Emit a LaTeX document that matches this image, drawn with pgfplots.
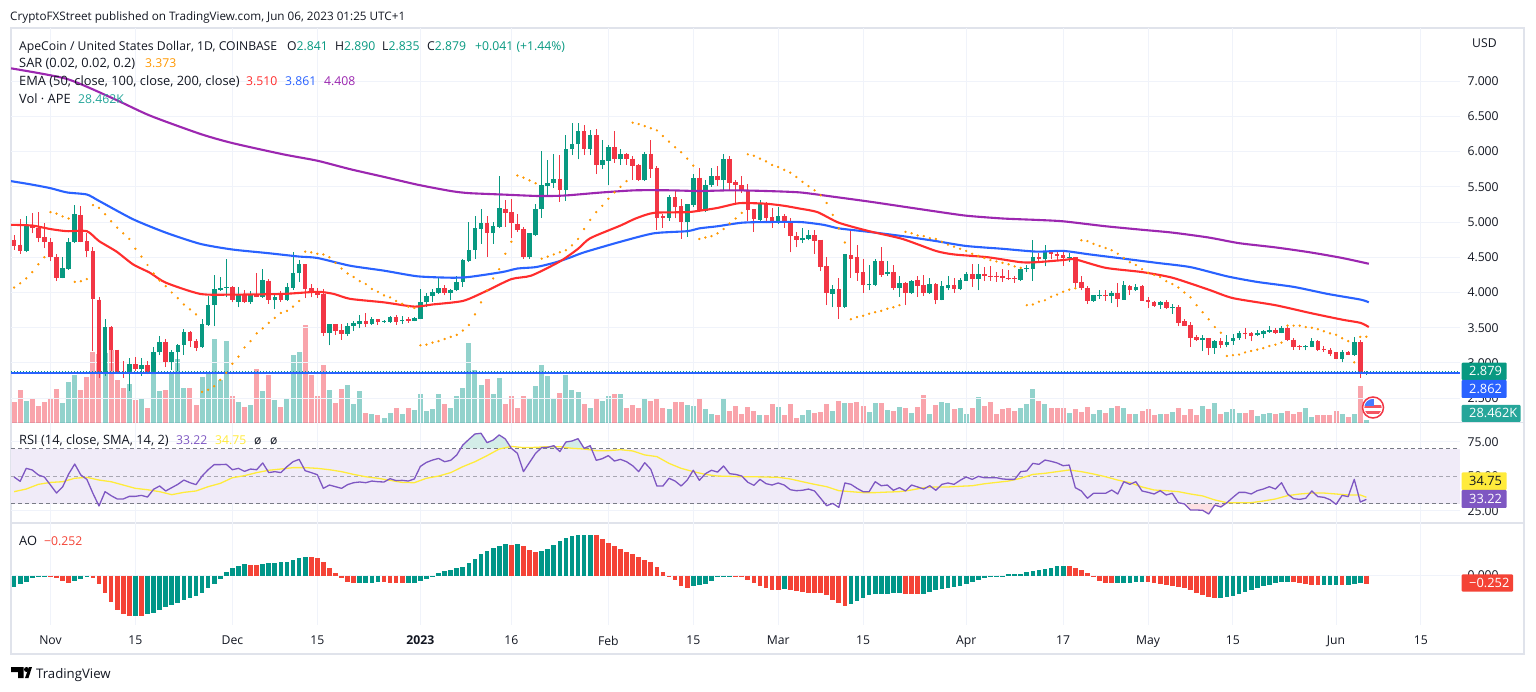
\documentclass[border=0pt]{standalone}
\usepackage{fontspec}
\setmainfont{Open Sans}
\usepackage{pgfplots}
\usepackage{pgfplotstable}
\pgfplotsset{compat=1.18}

\definecolor{upc}{HTML}{089981}
\definecolor{dnc}{HTML}{F23645}
\definecolor{aog}{HTML}{009688}
\definecolor{aor}{HTML}{F44336}
\definecolor{ema50}{HTML}{FF2D2D}
\definecolor{ema100}{HTML}{2962FF}
\definecolor{ema200}{HTML}{9C27B0}
\definecolor{sarc}{HTML}{FF9800}
\definecolor{rsic}{HTML}{7E57C2}
\definecolor{smac}{HTML}{FFEB3B}
\definecolor{gridc}{HTML}{F0F3FA}
\definecolor{framec}{HTML}{E0E3EB}
\definecolor{txt}{HTML}{131722}
\definecolor{volg}{HTML}{26A69A}
\definecolor{dashc}{HTML}{787B86}

% d = days since 1 Nov 2022, v in K
\pgfplotstableread{
d o h l c v
-6 4.75 4.81 4.61 4.66 207
-5 4.68 5.04 4.55 4.59 330
-4 4.59 5.09 4.57 4.96 220
-3 4.955 5.13 4.84 4.91 250
-2 4.92 5.14 4.71 4.78 170
-1 4.79 4.98 4.63 4.72 210
0 4.72 4.78 4.44 4.50 240
1 4.50 4.55 4.16 4.21 340
2 4.21 4.50 4.20 4.35 200
3 4.34 4.77 4.32 4.72 410
4 4.72 5.24 4.70 5.11 480
5 5.10 5.23 4.71 4.72 330
6 4.73 4.85 4.50 4.59 460
7 4.59 4.64 3.17 3.91 710
8 3.90 3.93 2.79 2.86 690
9 2.86 3.63 2.82 3.51 700
10 3.51 3.53 2.89 3.18 730
11 3.19 3.19 2.85 2.86 430
12 2.87 3.03 2.79 2.85 350
13 2.85 3.07 2.60 2.99 390
14 2.98 3.09 2.88 2.91 230
15 2.91 3.07 2.82 2.97 250
16 2.97 3.03 2.84 2.86 150
17 2.85 3.23 2.84 3.15 490
18 3.15 3.38 3.11 3.30 320
19 3.30 3.34 2.94 3.02 330
20 3.02 3.19 2.90 3.15 500
21 3.15 3.27 2.88 3.26 640
22 3.26 3.48 3.12 3.44 350
23 3.44 3.46 3.22 3.31 350
24 3.31 3.34 3.17 3.21 180
25 3.22 3.63 3.21 3.56 460
26 3.54 3.95 3.53 3.82 510
27 3.82 4.25 3.52 4.05 840
28 4.04 4.22 4.02 4.06 430
29 4.07 4.47 3.93 4.08 820
30 4.08 4.09 3.86 3.89 270
31 3.87 4.08 3.79 3.97 210
32 3.97 4.04 3.85 3.86 160
33 3.86 4.02 3.84 3.97 180
34 3.97 4.27 3.93 3.94 540
35 3.94 4.33 3.92 4.18 320
36 4.17 4.19 3.84 3.89 480
37 3.89 3.98 3.76 3.94 230
38 3.97 4.02 3.87 3.89 160
39 3.89 4.14 3.88 4.08 240
40 4.07 4.58 4.04 4.28 680
41 4.27 4.46 4.15 4.40 710
42 4.40 4.41 3.92 4.05 980
43 4.06 4.12 3.93 4.00 480
44 4.00 4.07 3.92 3.97 270
45 3.98 4.05 3.38 3.43 580
46 3.43 3.56 3.25 3.55 330
47 3.55 3.56 3.40 3.46 200
48 3.47 3.55 3.33 3.41 340
49 3.41 3.57 3.38 3.52 380
50 3.52 3.60 3.46 3.57 190
51 3.56 3.68 3.49 3.60 320
52 3.60 3.71 3.51 3.56 100
53 3.56 3.65 3.54 3.62 90
54 3.62 3.62 3.54 3.58 80
55 3.58 3.61 3.57 3.60 50
56 3.58 3.66 3.57 3.65 100
57 3.65 3.68 3.54 3.58 150
58 3.60 3.66 3.56 3.61 90
59 3.62 3.65 3.57 3.60 150
60 3.60 3.65 3.59 3.64 130
61 3.63 4.05 3.62 3.86 290
62 3.86 3.99 3.79 3.95 120
63 3.95 4.05 3.87 4.01 140
64 4.00 4.21 3.98 4.06 290
65 4.06 4.11 3.96 4.00 190
66 4.00 4.05 3.89 4.03 150
67 4.03 4.24 4.02 4.15 270
68 4.15 4.47 4.08 4.46 350
69 4.45 5.00 4.43 4.60 800
70 4.60 5.08 4.48 4.91 530
71 4.90 5.19 4.69 4.99 380
72 4.99 5.08 4.51 4.84 440
73 4.84 5.00 4.69 4.94 290
74 4.93 5.66 4.91 5.20 450
75 5.19 5.31 4.93 5.13 190
76 5.14 5.32 4.77 4.98 270
77 4.97 5.12 4.86 4.89 150
78 4.90 4.93 4.48 4.50 270
79 4.50 4.84 4.48 4.84 250
80 4.81 5.26 4.80 5.19 370
81 5.18 6.01 5.06 5.52 580
82 5.51 5.88 5.36 5.56 470
83 5.56 5.96 5.48 5.61 240
84 5.61 5.95 5.29 5.46 300
85 5.46 6.23 5.30 6.03 480
86 6.03 6.41 5.95 6.10 330
87 6.10 6.41 5.89 6.29 310
88 6.29 6.37 5.95 6.04 190
89 6.04 6.30 5.95 6.23 150
90 6.23 6.32 5.68 5.81 250
91 5.81 6.17 5.75 5.88 220
92 5.87 6.09 5.52 6.06 270
93 6.06 6.29 5.84 5.89 290
94 5.89 6.04 5.81 5.96 290
95 5.97 5.98 5.81 5.89 150
96 5.90 5.93 5.60 5.79 180
97 5.81 5.82 5.58 5.59 150
98 5.59 5.99 5.58 5.96 240
99 5.97 6.16 5.63 5.75 220
100 5.77 5.80 4.89 5.06 240
101 5.08 5.12 4.92 5.06 150
102 5.06 5.39 5.02 5.35 140
103 5.35 5.45 5.05 5.22 210
104 5.23 5.32 4.76 5.00 210
105 5.00 5.25 4.79 5.25 180
106 5.24 5.68 5.21 5.63 170
107 5.63 5.76 5.14 5.17 250
108 5.16 5.59 5.14 5.52 140
109 5.52 5.77 5.50 5.66 90
110 5.66 5.79 5.51 5.59 80
111 5.59 5.96 5.45 5.89 240
112 5.89 5.93 5.45 5.56 120
113 5.57 5.60 5.27 5.52 170
114 5.52 5.66 5.41 5.44 90
115 5.45 5.54 5.02 5.17 160
116 5.18 5.19 4.86 5.04 120
117 5.03 5.31 5.00 5.26 80
118 5.26 5.29 4.98 5.06 80
119 5.07 5.20 4.92 5.00 190
120 5.00 5.22 4.97 5.08 160
121 5.08 5.12 4.92 5.00 80
122 5.00 5.06 4.57 4.80 190
123 4.80 4.86 4.64 4.74 50
124 4.74 4.92 4.70 4.77 80
125 4.76 4.88 4.74 4.81 130
126 4.81 4.88 4.55 4.73 100
127 4.75 4.75 4.30 4.36 110
128 4.37 4.51 3.82 3.99 190
129 3.98 4.10 3.79 4.05 120
130 4.05 4.20 3.63 3.80 220
131 3.80 4.54 3.78 4.54 200
132 4.53 4.87 4.21 4.47 200
133 4.50 4.68 4.17 4.28 210
134 4.29 4.47 4.00 4.11 170
135 4.10 4.39 4.03 4.12 110
136 4.11 4.48 4.09 4.44 200
137 4.44 4.64 4.22 4.25 200
138 4.26 4.44 4.24 4.29 130
139 4.29 4.39 4.04 4.06 120
140 4.06 4.23 3.94 4.14 160
141 4.14 4.15 3.82 3.99 150
142 3.99 4.18 3.98 4.17 100
143 4.18 4.23 3.94 4.09 160
144 4.10 4.25 3.95 3.99 280
145 3.99 4.21 3.98 4.12 90
146 4.12 4.14 3.83 3.90 180
147 3.90 4.16 3.89 4.09 210
148 4.06 4.23 4.03 4.11 200
149 4.10 4.20 4.00 4.05 140
150 4.05 4.21 4.04 4.18 150
151 4.17 4.29 4.16 4.26 90
152 4.26 4.40 4.08 4.19 150
153 4.19 4.40 4.03 4.26 260
154 4.26 4.36 4.16 4.24 170
155 4.24 4.37 4.17 4.23 210
156 4.24 4.29 4.15 4.22 90
157 4.23 4.34 4.15 4.20 140
158 4.20 4.32 4.18 4.19 150
159 4.20 4.23 4.14 4.19 120
160 4.18 4.35 4.16 4.34 150
161 4.33 4.39 4.29 4.35 190
162 4.34 4.75 4.17 4.50 340
163 4.50 4.56 4.45 4.48 220
164 4.47 4.68 4.37 4.58 190
165 4.57 4.58 4.47 4.54 150
166 4.54 4.60 4.44 4.52 150
167 4.53 4.60 4.38 4.49 150
168 4.49 4.56 4.43 4.50 100
169 4.50 4.51 4.05 4.14 140
170 4.15 4.23 4.03 4.06 110
171 4.07 4.09 3.84 3.88 160
172 3.88 3.97 3.87 3.96 90
173 3.95 4.04 3.91 3.97 130
174 3.97 4.03 3.88 3.95 100
175 3.95 4.02 3.85 4.00 150
176 4.00 4.14 3.79 3.91 170
177 3.90 4.17 3.90 4.10 150
178 4.09 4.10 3.97 4.04 90
179 4.03 4.12 4.02 4.08 90
180 4.09 4.10 3.88 3.88 120
181 3.89 3.93 3.78 3.86 140
182 3.86 3.88 3.80 3.81 80
183 3.82 3.88 3.77 3.86 90
184 3.86 3.89 3.77 3.78 90
185 3.78 3.84 3.70 3.80 110
186 3.79 3.82 3.52 3.57 150
187 3.59 3.63 3.53 3.53 80
188 3.54 3.58 3.23 3.36 140
189 3.37 3.39 3.31 3.32 80
190 3.33 3.40 3.17 3.35 170
191 3.35 3.35 3.11 3.21 140
192 3.21 3.33 3.13 3.31 200
193 3.31 3.36 3.21 3.25 90
194 3.25 3.39 3.22 3.30 110
195 3.31 3.41 3.26 3.36 140
196 3.35 3.46 3.33 3.42 100
197 3.43 3.49 3.34 3.41 100
198 3.42 3.44 3.31 3.38 130
199 3.39 3.47 3.38 3.42 70
200 3.41 3.47 3.35 3.45 90
201 3.44 3.52 3.43 3.47 100
202 3.47 3.49 3.41 3.42 90
203 3.43 3.53 3.42 3.49 100
204 3.49 3.54 3.31 3.33 120
205 3.33 3.35 3.19 3.22 90
206 3.24 3.26 3.19 3.22 110
207 3.22 3.26 3.18 3.24 150
208 3.23 3.35 3.22 3.31 60
209 3.31 3.32 3.17 3.18 80
210 3.20 3.24 3.16 3.18 80
211 3.19 3.21 3.10 3.13 80
212 3.15 3.16 3.05 3.06 120
213 3.06 3.18 3.01 3.15 90
214 3.15 3.17 3.11 3.11 60
215 3.11 3.37 3.10 3.30 90
216 3.30 3.33 2.79 2.84 370
217 2.841 2.890 2.835 2.879 28.462
}\candles

% parabolic SAR
\pgfplotstableread{
d s
-6 4.07
-5 4.13
-4 4.20
-3 4.29
-2 4.40
-1 4.50
0 5.14
1 5.12
2 5.08
3 5.05
4 4.15
5 4.16
6 4.19
7 5.24
8 5.20
9 5.11
10 5.01
11 4.92
12 4.84
13 4.76
14 4.62
15 4.51
16 4.39
17 4.27
18 4.17
19 4.09
20 4.00
21 3.92
22 3.83
23 3.76
24 3.69
25 2.59
26 2.62
27 2.67
28 2.76
29 2.86
30 2.99
31 3.09
32 3.22
33 3.31
34 3.42
35 3.49
36 3.57
37 3.64
38 3.71
39 3.74
40 3.80
41 3.88
42 4.58
43 4.57
44 4.55
45 4.54
46 4.50
47 4.42
48 4.34
49 4.27
50 4.22
51 4.16
52 4.12
53 4.05
54 4.01
55 3.96
56 3.93
57 3.88
58 3.84
59 3.80
60 3.78
61 3.25
62 3.26
63 3.29
64 3.31
65 3.34
66 3.37
67 3.40
68 3.46
69 3.54
70 3.69
71 3.86
72 4.03
73 4.20
74 4.33
75 4.55
76 4.72
77 5.66
78 5.63
79 5.59
80 5.55
81 4.48
82 4.51
83 4.54
84 4.57
85 4.60
86 4.67
87 4.76
88 4.90
89 5.03
90 5.14
91 5.23
92 5.33
93 5.42
94 5.50
95 5.58
96 6.41
97 6.39
98 6.36
99 6.33
100 6.30
101 6.22
102 6.14
103 6.06
104 5.99
105 5.90
106 5.80
107 4.76
108 4.78
109 4.80
110 4.84
111 4.90
112 4.98
113 5.05
114 5.13
115 5.96
116 5.94
117 5.90
118 5.86
119 5.81
120 5.78
121 5.74
122 5.70
123 5.64
124 5.57
125 5.51
126 5.45
127 5.38
128 5.27
129 5.10
130 4.91
131 4.71
132 3.62
133 3.65
134 3.67
135 3.70
136 3.72
137 3.74
138 3.77
139 3.79
140 3.82
141 4.86
142 4.84
143 4.81
144 4.80
145 4.77
146 4.76
147 4.72
148 4.68
149 4.65
150 4.62
151 4.59
152 4.55
153 4.52
154 4.49
155 4.46
156 4.44
157 4.42
158 4.40
159 4.37
160 4.35
161 3.82
162 3.83
163 3.87
164 3.89
165 3.94
166 3.97
167 4.01
168 4.04
169 4.06
170 4.74
171 4.73
172 4.69
173 4.66
174 4.63
175 4.60
176 4.55
177 4.49
178 4.43
179 4.39
180 4.33
181 4.28
182 4.25
183 4.22
184 4.16
185 4.12
186 4.07
187 4.00
188 3.93
189 3.82
190 3.72
191 3.62
192 3.51
193 3.43
194 3.10
195 3.11
196 3.12
197 3.15
198 3.17
199 3.19
200 3.21
201 3.24
202 3.26
203 3.29
204 3.53
205 3.53
206 3.53
207 3.51
208 3.50
209 3.48
210 3.45
211 3.42
212 3.40
213 3.35
214 3.31
215 3.01
216 3.37
217 3.373
}\sar

% RSI
\pgfplotstableread{
d r
-6 49.4
-5 46.3
-4 55.7
-3 54.5
-2 50.9
-1 49.4
0 43.6
1 37.8
2 42.2
3 51.6
4 58.8
5 50.9
6 47.7
7 37.6
8 28.4
9 38.8
10 35.9
11 33.5
12 33.5
13 35.4
14 35.4
15 36.1
16 34.9
17 40.5
18 42.9
19 39.3
20 41.7
21 44.1
22 47.2
23 45.3
24 43.9
25 50.1
26 54.7
27 58.4
28 58.4
29 58.6
30 54.7
31 55.7
32 53.5
33 55.2
34 54.7
35 59.6
36 52.6
37 53.3
38 52.6
39 56.9
40 60.5
41 62.2
42 54.0
43 52.6
44 51.1
45 41.2
46 43.6
47 42.4
48 41.2
49 43.9
50 45.3
51 45.8
52 45.3
53 46.5
54 46.0
55 45.8
56 48.2
57 46.8
58 47.0
59 46.5
60 48.0
61 57.1
62 60.0
63 61.7
64 62.9
65 60.5
66 61.5
67 65.4
68 72.6
69 76.7
70 80.6
71 81.1
72 74.3
73 76.2
74 79.9
75 77.0
76 70.2
77 66.6
78 53.3
79 60.0
80 66.6
81 70.7
82 70.9
83 72.1
84 67.8
85 74.8
86 75.5
87 77.2
88 70.2
89 72.1
90 61.5
91 62.7
92 64.9
93 61.0
94 62.2
95 60.5
96 57.6
97 53.3
98 59.8
99 55.0
100 42.9
101 42.9
102 48.5
103 46.5
104 42.9
105 47.2
106 54.3
107 47.0
108 51.8
109 54.3
110 53.0
111 57.4
112 51.8
113 51.3
114 50.1
115 45.6
116 43.4
117 47.7
118 44.6
119 43.6
120 45.1
121 43.6
122 40.2
123 39.5
124 39.8
125 40.7
126 39.3
127 34.0
128 28.6
129 30.3
130 27.4
131 45.1
132 44.1
133 41.2
134 38.8
135 38.8
136 46.0
137 43.1
138 43.6
139 39.8
140 41.7
141 39.3
142 43.6
143 42.2
144 40.7
145 43.1
146 39.8
147 44.1
148 45.1
149 44.1
150 47.0
151 49.4
152 47.7
153 49.9
154 48.9
155 48.9
156 48.9
157 48.0
158 47.7
159 47.7
160 53.3
161 53.8
162 59.3
163 58.6
164 61.7
165 60.8
166 59.6
167 57.6
168 58.1
169 41.7
170 39.3
171 34.0
172 37.6
173 37.6
174 37.6
175 40.0
176 37.1
177 46.0
178 44.1
179 46.0
180 39.3
181 38.3
182 37.1
183 39.5
184 36.4
185 37.6
186 30.8
187 29.9
188 25.5
189 25.5
190 25.3
191 22.6
192 29.1
193 27.7
194 30.8
195 34.7
196 38.3
197 38.3
198 37.1
199 39.5
200 40.7
201 42.4
202 40.7
203 45.3
204 37.1
205 33.7
206 33.2
207 34.0
208 39.3
209 35.2
210 34.7
211 33.0
212 29.6
213 36.1
214 35.2
215 47.7
216 31.3
217 33.22
}\rsi

% Awesome Oscillator, g = 1 for a green bar
\pgfplotstableread{
d a g
-6 -.34 1
-5 -.26 1
-4 -.19 1
-3 -.09 1
-2 -.04 1
-1 -.01 1
0 -.01 0
1 -.09 0
2 -.16 0
3 -.22 0
4 -.16 1
5 -.10 1
6 -.01 1
7 -.09 0
8 -.25 0
9 -.52 0
10 -.80 0
11 -1.05 0
12 -1.15 0
13 -1.21 0
14 -1.21 1
15 -1.21 0
16 -1.17 1
17 -1.13 1
18 -1.03 1
19 -.95 1
20 -.89 1
21 -.82 1
22 -.75 1
23 -.69 1
24 -.61 1
25 -.54 1
26 -.39 1
27 -.27 1
28 -.11 1
29 .11 1
30 .24 1
31 .29 1
32 .34 1
33 .32 0
34 .32 0
35 .34 1
36 .39 1
37 .39 1
38 .42 1
39 .42 1
40 .47 1
41 .53 1
42 .55 1
43 .55 0
44 .52 0
45 .40 0
46 .22 0
47 .07 0
48 -.07 0
49 -.19 0
50 -.24 0
51 -.22 1
52 -.22 1
53 -.22 1
54 -.19 1
55 -.19 0
56 -.22 0
57 -.22 0
58 -.22 0
59 -.22 1
60 -.22 1
61 -.16 1
62 -.10 1
63 -.04 1
64 .07 1
65 .13 1
66 .17 1
67 .23 1
68 .27 1
69 .37 1
70 .49 1
71 .64 1
72 .75 1
73 .82 1
74 .90 1
75 .95 1
76 .93 0
77 .95 1
78 .90 0
79 .77 0
80 .70 0
81 .75 1
82 .80 1
83 .93 1
84 1.05 1
85 1.12 1
86 1.18 1
87 1.21 1
88 1.21 1
89 1.23 1
90 1.21 0
91 1.10 0
92 .98 0
93 .90 0
94 .80 0
95 .72 0
96 .64 0
97 .56 0
98 .47 0
99 .41 0
100 .26 0
101 .11 0
102 -.04 0
103 -.13 0
104 -.32 0
105 -.37 0
106 -.32 1
107 -.29 1
108 -.27 1
109 -.16 1
110 -.06 1
111 -.04 1
112 -.01 1
113 -.04 0
114 -.06 0
115 -.14 0
116 -.24 0
117 -.32 0
118 -.37 0
119 -.45 0
120 -.45 0
121 -.41 1
122 -.45 0
123 -.47 0
124 -.49 0
125 -.52 0
126 -.54 0
127 -.54 0
128 -.59 0
129 -.73 0
130 -.83 0
131 -.91 0
132 -.85 1
133 -.77 1
134 -.68 1
135 -.60 1
136 -.55 1
137 -.55 1
138 -.55 1
139 -.53 1
140 -.53 1
141 -.55 0
142 -.57 0
143 -.57 0
144 -.55 1
145 -.50 1
146 -.44 1
147 -.42 1
148 -.37 1
149 -.34 1
150 -.32 1
151 -.25 1
152 -.19 1
153 -.13 1
154 -.09 1
155 -.03 1
156 -.03 1
157 -.01 1
158 .04 1
159 .04 1
160 .04 1
161 .11 1
162 .13 1
163 .16 1
164 .21 1
165 .24 1
166 .30 1
167 .30 1
168 .30 0
169 .23 0
170 .16 0
171 .07 0
172 -.03 0
173 -.16 0
174 -.22 0
175 -.24 0
176 -.24 1
177 -.22 1
178 -.22 1
179 -.19 1
180 -.19 1
181 -.19 0
182 -.22 0
183 -.27 0
184 -.30 0
185 -.33 0
186 -.36 0
187 -.38 0
188 -.44 0
189 -.52 0
190 -.60 0
191 -.66 0
192 -.68 0
193 -.68 1
194 -.65 1
195 -.63 1
196 -.55 1
197 -.49 1
198 -.44 1
199 -.38 1
200 -.32 1
201 -.29 1
202 -.24 1
203 -.21 1
204 -.19 1
205 -.19 0
206 -.22 0
207 -.27 0
208 -.29 0
209 -.29 0
210 -.29 1
211 -.29 1
212 -.29 1
213 -.29 0
214 -.29 1
215 -.25 1
216 -.22 1
217 -.252 0
}\ao

\newcommand{\lbl}{\fontsize{12.2}{15}\selectfont}
\newcommand{\lblb}{\fontsize{12.85}{15}\selectfont}
\newcommand{\T}[3]{\node[anchor=base west,inner sep=0pt,font=\lbl,text=txt] at (#1pt,{691pt-#2pt}) {#3};}
\newcommand{\Tb}[3]{\node[anchor=base west,inner sep=0pt,font=\lblb,text=txt] at (#1pt,{691pt-#2pt}) {#3};}
\newcommand{\V}[4]{\node[anchor=base west,inner sep=0pt,font=\lblb,text=#4] at (#1pt,{691pt-#2pt}) {#3};}
\newcommand{\Tag}[5]{\fill[#5,rounded corners=1pt] (#1pt,{691pt-#2pt}) rectangle (#3pt,{691pt-#4pt});}

\pgfplotsset{pane/.style={
  anchor=south west, scale only axis, width=1449pt,
  xmin=-6.51, xmax=232.44,
  axis line style={draw=none},
  tick style={draw=none},
  xtick={0,14,30,44,61,76,92,106,120,134,151,167,181,195,212,226},
  grid=major, grid style={gridc,line width=1pt},
  xticklabels={},
  yticklabel pos=right,
  ticklabel style={font=\lbl,text=txt},
  yticklabel style={anchor=west,xshift=4pt},
}}

\begin{document}
\begin{tikzpicture}
\path[use as bounding box] (0,0) rectangle (1536pt,691pt);
\fill[white] (0,0) rectangle (1536pt,691pt);

% frame
\draw[framec,line width=1.4pt] (11pt,{691pt-28pt}) rectangle (1524pt,{691pt-654pt});
\draw[framec,line width=1.4pt] (11pt,{691pt-422.7pt}) -- (1524pt,{691pt-422.7pt});
\draw[framec,line width=1.4pt] (11pt,{691pt-523pt}) -- (1524pt,{691pt-523pt});

% volume, 1pt = 10K
\begin{axis}[pane, at={(11pt,268.3pt)}, height=394.7pt,
  ymin=0, ymax=3947, ytick=\empty, xtick=\empty, grid=none]
\addplot[ycomb, no markers, volg, opacity=.5, line width=5pt,
  restrict expr to domain={\thisrow{c}-\thisrow{o}}{0:100}] table[x=d,y=v] {\candles};
\addplot[ycomb, no markers, dnc, opacity=.45, line width=5pt,
  restrict expr to domain={\thisrow{c}-\thisrow{o}}{-100:-0.0001}] table[x=d,y=v] {\candles};
\end{axis}

% price
\begin{axis}[pane, at={(11pt,268.3pt)}, height=394.7pt,
  ymin=2.1528, ymax=7.7528,
  ytick={2.5,3,3.5,4,4.5,5,5.5,6,6.5,7},
  yticklabels={2.500,3.000,3.500,4.000,4.500,5.000,5.500,6.000,6.500,7.000}]
% wicks
\addplot[upc, line width=.9pt, quiver={u=0,v=\thisrow{h}-\thisrow{l}},
  restrict expr to domain={\thisrow{c}-\thisrow{o}}{0:100}] table[x=d,y=l] {\candles};
\addplot[dnc, line width=.9pt, quiver={u=0,v=\thisrow{h}-\thisrow{l}},
  restrict expr to domain={\thisrow{c}-\thisrow{o}}{-100:-0.0001}] table[x=d,y=l] {\candles};
% bodies
\addplot[upc, line width=4.6pt, quiver={u=0,v=\thisrow{c}-\thisrow{o}},
  restrict expr to domain={\thisrow{c}-\thisrow{o}}{0:100}] table[x=d,y=o] {\candles};
\addplot[dnc, line width=4.6pt, quiver={u=0,v=\thisrow{c}-\thisrow{o}},
  restrict expr to domain={\thisrow{c}-\thisrow{o}}{-100:-0.0001}] table[x=d,y=o] {\candles};
% EMA 200
\addplot[ema200, line width=2.1pt, smooth, tension=.4] coordinates {
(-6.5,7.18)(2.7,7.03)(10.4,6.75)(16.4,6.51)(24.7,6.25)(30,6.12)(38.4,5.96)(44,5.87)(49.4,5.75)(55,5.64)(60.5,5.53)(66,5.44)(69,5.41)(74.5,5.39)(80,5.37)(83,5.37)(85.5,5.38)(91,5.42)(96.5,5.45)(102,5.45)(107,5.44)(112.5,5.45)(118,5.44)(123.6,5.42)(129,5.36)(135,5.29)(140.5,5.22)(146,5.15)(151,5.09)(157,5.05)(162.6,5.03)(167,5.01)(174,4.94)(180,4.89)(185,4.85)(191,4.78)(196,4.70)(202,4.64)(207.7,4.57)(213,4.49)(217.4,4.408)};
% EMA 100
\addplot[ema100, line width=2.1pt, smooth, tension=.4] coordinates {
(-6.5,5.58)(-3,5.53)(0,5.48)(2.7,5.42)(6,5.39)(8,5.30)(13.6,5.04)(19,4.85)(24.7,4.69)(30,4.61)(35.7,4.56)(41,4.51)(44,4.49)(49.4,4.38)(55,4.31)(60.5,4.23)(66,4.21)(69,4.22)(74.5,4.29)(77,4.34)(80,4.36)(83,4.42)(85.5,4.49)(88,4.57)(94,4.72)(99.5,4.84)(105,4.87)(107,4.91)(110,4.94)(114,4.99)(118,5.00)(123.6,5.00)(127.5,4.96)(130,4.91)(135,4.86)(140.5,4.80)(146,4.73)(151,4.66)(157,4.62)(162.6,4.58)(167,4.59)(171.4,4.54)(177,4.48)(182.5,4.42)(188,4.36)(194,4.23)(199,4.15)(205,4.08)(210.6,3.98)(216,3.90)(217.4,3.861)};
% EMA 50
\addplot[ema50, line width=2.1pt, smooth, tension=.4] coordinates {
(-6.5,4.96)(-3,4.95)(0,4.90)(2.7,4.87)(6,4.87)(8,4.73)(10.9,4.58)(13.6,4.40)(16.4,4.28)(19,4.14)(24.7,3.98)(30,3.97)(38.4,3.98)(44,4.01)(46.7,3.98)(49.4,3.91)(55,3.86)(60,3.80)(63,3.83)(68,3.88)(71.6,4.01)(76,4.19)(79.3,4.24)(84,4.44)(87,4.62)(89,4.77)(94,4.95)(96.5,5.05)(99.5,5.13)(105,5.14)(107,5.16)(110,5.20)(113,5.26)(114.3,5.27)(118,5.26)(121,5.23)(123.6,5.19)(126.5,5.14)(130,4.99)(135,4.87)(140.5,4.76)(146,4.59)(149,4.54)(154.6,4.50)(160,4.43)(162.6,4.43)(167,4.46)(169,4.47)(174,4.35)(180,4.29)(185,4.21)(191,4.04)(195,3.92)(202,3.82)(207.7,3.71)(213,3.615)(216,3.57)(217.4,3.51)};
% SAR
\addplot[only marks, mark=*, mark size=.95pt, color=sarc, mark options={draw=none,fill=sarc}] table[x=d,y=s] {\sar};
% last price lines
\addplot[ema100, line width=1.9pt] coordinates {(-6.51,2.862)(232.44,2.862)};
\addplot[upc, line width=1pt, dotted] coordinates {(-6.51,2.879)(232.44,2.879)};
\end{axis}

% RSI
\begin{axis}[pane, at={(11pt,168pt)}, height=100pt,
  ymin=16.09, ymax=88.55, ytick={25,50,75}, yticklabels={25.00,50.00,75.00}]
\addplot[fill=rsic!12,draw=none] coordinates {(-6.51,30)(232.44,30)(232.44,70)(-6.51,70)};
\addplot[fill=upc!18,draw=none] coordinates {(67.7,70)(68,72.6)(69,76.7)(70,80.6)(71,81.1)(72,74.3)(73,76.2)(74,79.9)(75,77)(76,70.2)(76.1,70)};
\addplot[fill=upc!18,draw=none] coordinates {(81,70)(81,70.7)(82,70.9)(83,72.1)(83.5,70)(84.7,70)(85,74.8)(86,75.5)(87,77.2)(88,70.2)(89,72.1)(89.2,70)};
\addplot[fill=dnc!15,draw=none] coordinates {(186.9,30)(187,29.9)(188,25.5)(189,25.5)(190,25.3)(191,22.6)(192,29.1)(193,27.7)(193.8,30)};
\addplot[color=dashc,line width=.9pt,dash pattern=on 4pt off 3pt] coordinates {(-6.51,70)(232.44,70)};
\addplot[color=dashc,opacity=.6,line width=.9pt,dash pattern=on 4pt off 3pt] coordinates {(-6.51,50)(232.44,50)};
\addplot[color=dashc,line width=.9pt,dash pattern=on 4pt off 3pt] coordinates {(-6.51,30)(232.44,30)};
% SMA of RSI
\addplot[smac, line width=1.3pt, line join=round] coordinates {
(-6,38.8)(-4,40.7)(-2,44.1)(0,45.5)(2,46)(4,48.5)(6,49.2)(8,47.2)(10,46)(12,43.6)(14,41.2)(16,40.2)(18,38.8)(20,36.6)(22,38.3)(24,39.3)(26,42.4)(28,44.8)(30,48.9)(32,50.4)(34,52.6)(36,54.3)(38,55.2)(40,56.2)(42,56.2)(44,55.7)(46,54.7)(48,53.3)(50,51.3)(52,49.6)(54,48.5)(56,47)(58,45.5)(60,45.3)(62,48.5)(64,50.1)(66,52.6)(68,56.9)(70,60.5)(72,64.9)(74,69.7)(76,71.6)(78,70.7)(80,70.9)(82,71.4)(84,71.4)(86,70.2)(88,69.7)(90,68.5)(92,68.5)(94,69.2)(96,68.3)(98,65.4)(100,64.2)(102,59.3)(104,55.7)(106,53.3)(108,51.3)(110,50.1)(112,49.9)(114,49.6)(116,49.6)(118,49.4)(120,49.2)(122,48)(124,46)(126,44.1)(128,42.4)(130,39.5)(132,38.8)(134,38.1)(136,38.1)(138,38.5)(140,38.8)(142,40)(144,41.7)(146,42.2)(148,42.2)(150,42.7)(152,43.1)(154,44.5)(156,45.5)(158,46.5)(160,48.5)(162,51.3)(164,52.1)(166,53.3)(168,54.5)(170,53.3)(172,51.6)(174,49.6)(176,47.2)(178,45.3)(180,42.2)(182,40)(184,39.5)(186,38.8)(188,37.1)(190,35.7)(192,32.8)(194,30.8)(196,30.8)(198,30.8)(200,32)(202,33.5)(204,35.9)(206,37.1)(208,37.8)(210,37.8)(212,37.1)(214,36.4)(216,36.4)(217,34.75)};
\addplot[rsic, line width=1.3pt, line join=round] table[x=d,y=r] {\rsi};
\end{axis}

% AO and the time scale
\begin{axis}[pane, at={(11pt,66.5pt)}, height=101.5pt,
  ymin=-1.4715, ymax=1.5766, ytick={0}, yticklabels={0.000},
  xticklabels={Nov,15,Dec,15,\textbf{2023},16,Feb,15,Mar,15,Apr,17,May,15,Jun,15},
  xticklabel style={yshift=-8pt}]
\addplot[ycomb, no markers, aog, line width=4.7pt,
  restrict expr to domain={\thisrow{g}}{1:1}] table[x=d,y=a] {\ao};
\addplot[ycomb, no markers, aor, line width=4.7pt,
  restrict expr to domain={\thisrow{g}}{0:0}] table[x=d,y=a] {\ao};
\end{axis}

% scale labels on the right
\Tag{1461.7}{362.7}{1506.7}{380}{upc}
\Tag{1461.7}{380}{1506.7}{398}{ema100}
\Tag{1461.7}{405}{1520.7}{422}{volg}
\Tag{1461.7}{472.3}{1506.7}{490}{smac}
\Tag{1461.7}{490}{1506.7}{508}{rsic}
\Tag{1461.7}{574.3}{1513}{591.7}{aor}
\V{1469}{376}{2.879}{white}
\V{1469}{394}{2.862}{white}
\V{1469}{418}{28.462K}{white}
\V{1469}{486}{34.75}{txt}
\V{1469}{504}{33.22}{white}
\V{1469}{587.5}{−0.252}{white}
\T{1472}{48}{USD}

% US flag marker
\begin{scope}
\fill[white] (1373pt,{691pt-407.5pt}) circle (11pt);
\clip (1373pt,{691pt-407.5pt}) circle (8.6pt);
\fill[dnc!85] (1364pt,{691pt-405.5pt}) rectangle (1382pt,{691pt-408.5pt});
\fill[dnc!85] (1364pt,{691pt-411.5pt}) rectangle (1382pt,{691pt-414pt});
\fill[ema100!85] (1364pt,{691pt-398.5pt}) rectangle (1374pt,{691pt-406.5pt});
\end{scope}
\draw[dnc,line width=1.5pt] (1373pt,{691pt-407.5pt}) circle (10.5pt);

% header and legend
\node[anchor=base west,inner sep=0pt,font=\fontsize{11.7}{14}\selectfont,text=txt] at (10pt,{691pt-21pt}) {CryptoFXStreet published on TradingView.com, Jun 06, 2023 01:25 UTC+1};
\T{19}{50.5}{ApeCoin / United States Dollar, 1D, COINBASE}
\T{287}{50.5}{O\textcolor{upc}{2.841}}
\T{335}{50.5}{H\textcolor{upc}{2.890}}
\T{382}{50.5}{L\textcolor{upc}{2.835}}
\T{427}{50.5}{C\textcolor{upc}{2.879}}
\T{475}{50.5}{\textcolor{upc}{+0.041 (+1.44\%)}}
\Tb{19}{68}{SAR (0.02, 0.02, 0.2)}
\T{145}{68}{\textcolor{sarc}{3.373}}
\Tb{19}{86}{EMA (50, close, 100, close, 200, close)}
\T{246}{86}{\textcolor{ema50}{3.510}}
\T{285}{86}{\textcolor{ema100}{3.861}}
\T{324}{86}{\textcolor{ema200}{4.408}}
\Tb{19}{104}{Vol · APE}
\T{78}{104}{\textcolor{volg}{28.462K}}
\Tb{19}{445}{RSI (14, close, SMA, 14, 2)}
\T{176}{445}{\textcolor{rsic}{33.22}}
\T{215}{445}{\textcolor{smac}{34.75}}
\T{254}{445}{ø}
\T{270}{445}{ø}
\Tb{19}{545}{AO}
\T{44}{545}{\textcolor{aor}{−0.252}}

% TradingView mark
\fill[black] (11pt,{691pt-667pt}) -- (23.5pt,{691pt-667pt}) -- (23.5pt,{691pt-678pt}) -- (18pt,{691pt-678pt}) -- (18pt,{691pt-672pt}) -- (11pt,{691pt-672pt}) -- cycle;
\fill[black] (26.5pt,{691pt-669.5pt}) circle (2.5pt);
\fill[black] (25pt,{691pt-678pt}) -- (29pt,{691pt-667pt}) -- (32pt,{691pt-667pt}) -- (28.5pt,{691pt-678pt}) -- cycle;
\node[anchor=base west,inner sep=0pt,font=\fontsize{13.2}{16}\selectfont,text=txt] at (36pt,{691pt-678pt}) {TradingView};
\end{tikzpicture}
\end{document}
